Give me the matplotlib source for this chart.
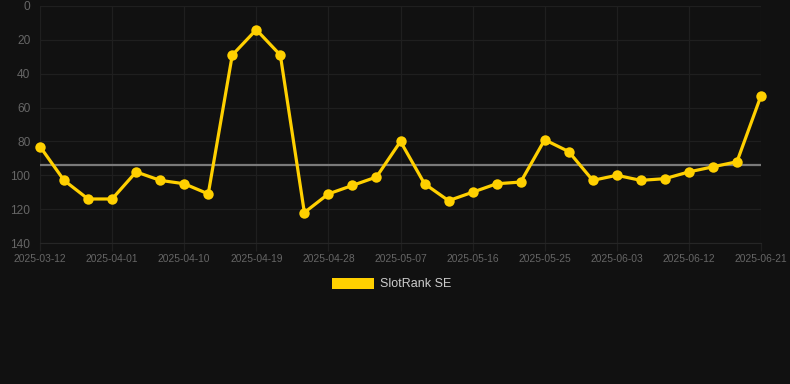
"""
plot.py
SlotRank SE rank history, dark theme.
"""
import matplotlib
matplotlib.use("Agg")
import matplotlib.pyplot as plt
from matplotlib.patches import Patch

# Data
tick_labels = ["2025-03-12", "2025-04-01", "2025-04-10", "2025-04-19", "2025-04-28",
               "2025-05-07", "2025-05-16", "2025-05-25", "2025-06-03", "2025-06-12",
               "2025-06-21"]
rank = [83, 103, 114, 114, 98, 103, 105, 111, 29, 14, 29,
        122, 111, 106, 101, 80, 105, 115, 110, 105, 104,
        79, 86, 103, 100, 103, 102, 98, 95, 92, 53]
avg_rank = 94
series_name = "SlotRank SE"

bg = "#111111"
grid_c = "#1f1f1f"
text_c = "#666666"
yellow = "#FFD000"

plt.rcParams["font.family"] = ["Liberation Sans", "DejaVu Sans"]

fig = plt.figure(figsize=(7.9, 3.84), dpi=100, facecolor=bg)
ax = fig.add_axes([40/790, 1 - 243/384, (761 - 40)/790, (243 - 6)/384])
ax.set_facecolor(bg)

x = list(range(len(rank)))
ax.plot([x[0], x[-1]], [avg_rank, avg_rank], color="#7a7a7a", lw=1.6, zorder=2)
ax.plot(x, rank, color=yellow, lw=2.3, marker="o", ms=7.5,
        markeredgewidth=0, zorder=3, clip_on=False)

ax.set_xlim(0, len(rank) - 1)
ax.set_ylim(140, 0)
ax.set_yticks(range(0, 141, 20))
ax.set_xticks(x[::3])
ax.set_xticklabels(tick_labels)

ax.grid(True, color=grid_c, lw=0.9)
for s in ax.spines.values():
    s.set_visible(False)
ax.spines["bottom"].set_visible(True)
ax.spines["bottom"].set_color("#262626")
ax.tick_params(axis="x", colors=grid_c, labelcolor=text_c, labelsize=7.4,
               length=6, width=0.9, pad=2)
ax.tick_params(axis="y", labelcolor=text_c, labelsize=8.6, length=0, pad=7)

fig.legend(handles=[Patch(facecolor=yellow, edgecolor="none", label=series_name)],
           loc="center", bbox_to_anchor=(0.496, 1 - 284/384), frameon=False,
           fontsize=9, labelcolor="#cccccc", handlelength=3.3, handleheight=1.0,
           handletextpad=0.5)

fig.savefig("out.png", dpi=100, facecolor=bg)
